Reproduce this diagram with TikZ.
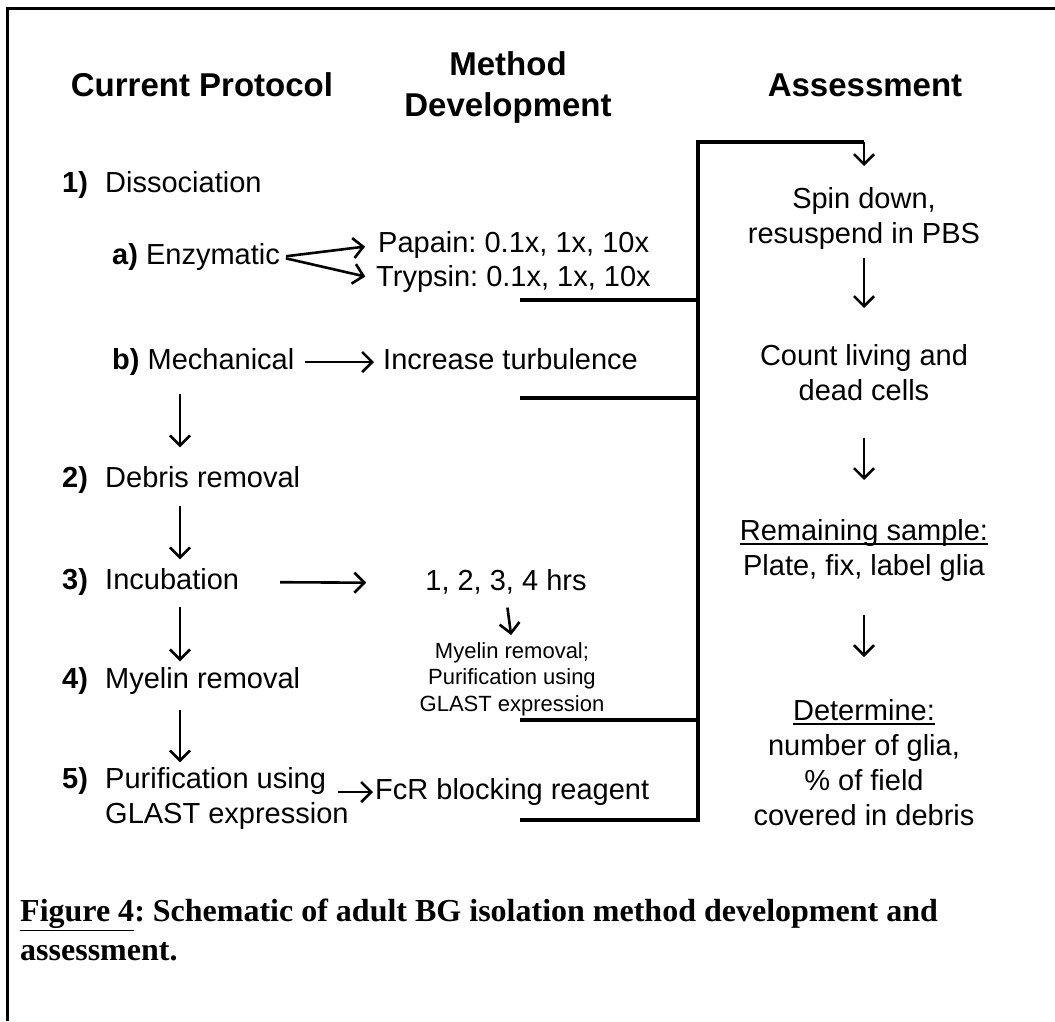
\documentclass[tikz,border=0pt]{standalone}
\usepackage{fontspec}
\setmainfont{Liberation Sans}
\newfontfamily\capfont{Liberation Serif}
\usetikzlibrary{arrows.meta}
\frenchspacing
\newcommand\ulin[1]{\leavevmode\setbox0\hbox{#1}\rlap{\vrule height -3pt depth 5pt width \wd0}\box0}
\tikzset{
  txt/.style={inner sep=0pt, text height=21pt, text depth=6pt, font=\fontsize{29}{35}\selectfont},
  num/.style={txt, font=\fontsize{29}{35}\selectfont\bfseries},
  blk/.style={inner sep=0pt, align=center, font=\fontsize{29}{35}\selectfont},
  head/.style={inner sep=0pt, align=center, font=\fontsize{33}{41}\selectfont\bfseries},
  small/.style={inner sep=0pt, align=center, font=\fontsize{22}{26.5}\selectfont},
  figcap/.style={inner sep=0pt, align=left, font=\capfont\bfseries\fontsize{32}{39}\selectfont},
  arr/.style={line width=2.6pt, -{Straight Barb[length=10pt,width=20pt]}},
  bus/.style={line width=3.6pt},
}
\begin{document}
\begin{tikzpicture}[x=1pt,y=-1pt]
\useasboundingbox (0,0) rectangle (1055,1021);
% Cornice
\draw[line width=3pt] (7,1021) -- (7,8) -- (1055,8);
% Titoli
\node[head] (cp) at (202,85) {Current Protocol};
\node[head] (md) at (508,87) {Method\\Development};
\node[head] (as) at (865,85) {Assessment};
% Protocollo
\node[num,anchor=west] (n1) at (62,185) {1)};
\node[txt,anchor=west] (diss) at (105,185) {Dissociation};
\node[txt,anchor=west] (enz) at (112,257) {\textbf{a)} Enzymatic};
\node[txt,anchor=west] (mech) at (112,362) {\textbf{b)} Mechanical};
\node[num,anchor=west] (n2) at (62,480) {2)};
\node[txt,anchor=west] (deb) at (105,480) {Debris removal};
\node[num,anchor=west] (n3) at (62,582) {3)};
\node[txt,anchor=west] (inc) at (105,582) {Incubation};
\node[num,anchor=west] (n4) at (62,681) {4)};
\node[txt,anchor=west] (myel) at (105,681) {Myelin removal};
\node[num,anchor=west] (n5) at (62,781) {5)};
\node[txt,anchor=west] (pur) at (105,781) {Purification using};
\node[txt,anchor=west] (glast) at (105,816) {GLAST expression};
\coordinate (col) at (180,0);
\draw[arr, shorten <=18pt, shorten >=19pt] (mech.south -| col) -- (deb.north -| col);
\draw[arr, shorten <=12pt, shorten >=9pt] (deb.south -| col) -- (inc.north -| col);
\draw[arr, shorten <=11pt, shorten >=6pt] (inc.south -| col) -- (myel.north -| col);
\draw[arr, shorten <=15pt, shorten >=5pt] (myel.south -| col) -- (pur.north -| col);
% Sviluppo
\node[txt,anchor=west] (pap) at (378,245) {Papain: 0.1x, 1x, 10x};
\node[txt,anchor=west] (tryp) at (376,279) {Trypsin: 0.1x, 1x, 10x};
\node[txt,anchor=west] (turb) at (383,362) {Increase turbulence};
\node[txt] (hrs) at (506,583) {1, 2, 3, 4 hrs};
\node[small,anchor=north] (myl) at (512,642) {Myelin removal;\\Purification using\\GLAST expression};
\node[txt,anchor=west] (fcr) at (375,792) {FcR blocking reagent};
\draw[arr, shorten <=6pt, shorten >=13pt] (enz.east) -- (pap.west);
\draw[arr, shorten <=6pt, shorten >=11pt] (enz.east) -- (tryp.west);
\draw[arr, shorten <=10pt, shorten >=9pt] (mech.east) -- (turb.west);
\draw[arr, shorten <=41pt, shorten >=59pt] (inc.east) -- (hrs.west);
\draw[arr, shorten <=11pt, shorten >=7pt] (hrs.south) -- (myl.north);
\draw[arr, shorten <=12pt, shorten >=2pt] (pur.east |- fcr.west) -- (fcr.west);
% Collettore
\coordinate (bt) at (698,142);
\coordinate (bb) at (698,820);
\coordinate (c1) at (520,300);
\coordinate (c2) at (520,398);
\coordinate (c3) at (520,720);
\coordinate (c4) at (520,820);
\draw[bus] (c1) -- (c1 -| bt);
\draw[bus] (c2) -- (c2 -| bt);
\draw[bus] (c3) -- (c3 -| bt);
% Valutazione
\node[blk,anchor=north] (spin) at (864,187) {Spin down,\\resuspend in PBS};
\node[blk,anchor=north] (count) at (864,344) {Count living and\\dead cells};
\node[blk,anchor=north] (rem) at (864,519) {\ulin{Remaining sample:}\\Plate, fix, label glia};
\node[blk,anchor=north] (det) at (864,699) {\ulin{Determine:}\\number of glia,\\\% of field\\covered in debris};
\draw[bus] (c4) -- (bb) -- (bt) -- (bt -| spin);
\draw[arr, shorten >=21pt] (bt -| spin) -- (spin.north);
\draw[arr, shorten <=9pt, shorten >=36pt] (spin.south) -- (count.north);
\draw[arr, shorten <=37pt, shorten >=39pt] (count.south) -- (rem.north);
\draw[arr, shorten <=34pt, shorten >=42pt] (rem.south) -- (det.north);
% Didascalia
\node[figcap,anchor=north west] (fig) at (20,899) {\underline{Figure 4}: Schematic of adult BG isolation method development and\\assessment.};
\end{tikzpicture}
\end{document}
